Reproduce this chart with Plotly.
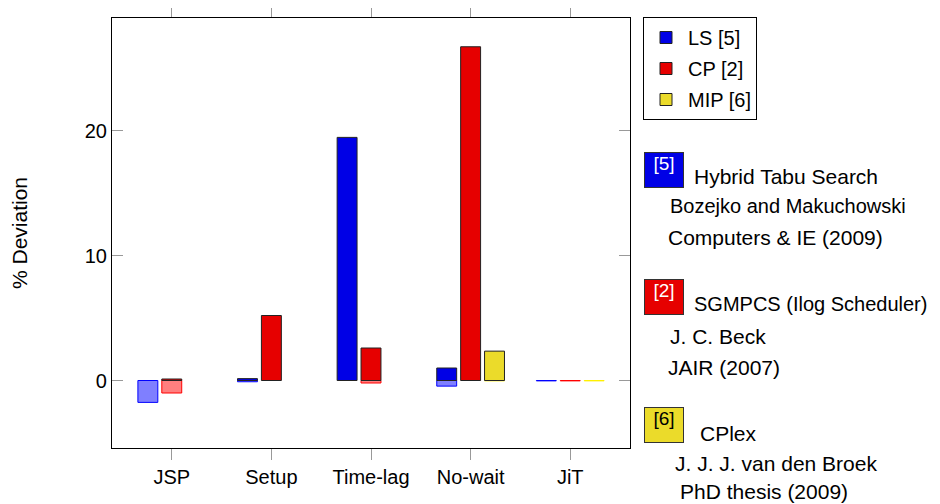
import plotly.graph_objects as go

categories = ["JSP", "Setup", "Time-lag", "No-wait", "JiT"]

# solid bars and the lighter (transparent) bars behind them, % deviation
ls_solid = [None, 0.15, 19.45, 1.0, None]
ls_light = [-1.75, -0.1, None, -0.45, -0.03]
cp_solid = [0.12, 5.2, 2.6, 26.7, None]
cp_light = [-1.0, None, -0.2, None, -0.03]
mip_solid = [None, None, None, 2.35, None]
mip_light = [None, None, None, -0.03, -0.03]

series = [
    ("LS [5]", ls_solid, ls_light, "#0000e6", "rgba(0,0,255,0.5)", "#0000ff", -0.34),
    ("CP [2]", cp_solid, cp_light, "#e60000", "rgba(255,0,0,0.5)", "#ff0000", -0.10),
    ("MIP [6]", mip_solid, mip_light, "#ebdb2a", "rgba(255,240,0,0.5)", "#fff000", 0.14),
]

FONT = "Liberation Sans"
# page body has an 8px margin, so the figure starts at (8, 8) in the window
OFF = 8
W, H = 940 - OFF, 504 - OFF
L, R, T, B = 112, 630, 18, 448   # plot area in window pixels


def px(x):
    return (x - L) / (R - L)


def py(y):
    return (B - y) / (B - T)


fig = go.Figure()
for name, solid, light, col, lcol, edge, off in series:
    fig.add_bar(x=categories, y=light, width=0.2, offset=off, marker_color=lcol,
                marker_line=dict(color=edge, width=1), showlegend=False, hoverinfo="skip")
for i, (name, solid, light, col, lcol, edge, off) in enumerate(series):
    fig.add_bar(x=categories, y=solid, width=0.2, offset=off, name=name, legendgroup=str(i),
                marker_color=col, marker_line=dict(color="#222", width=1))

fig.update_layout(
    barmode="overlay",
    width=W, height=H,
    margin=dict(l=L - OFF, r=W - (R - OFF), t=T - OFF, b=H - (B - OFF), autoexpand=False),
    plot_bgcolor="white", paper_bgcolor="white",
    font=dict(family=FONT, size=19, color="black"),
    legend=dict(x=px(643), y=py(17), xanchor="left", yanchor="top",
                bordercolor="black", borderwidth=1, font=dict(size=20),
                tracegroupgap=2, itemwidth=34),
)
fig.update_xaxes(range=[-0.6, 4.6], showline=True, linecolor="black", linewidth=1.2,
                 mirror="ticks", ticks="outside", ticklen=11, tickcolor="#999",
                 tickfont=dict(size=20), showgrid=False)
fig.update_yaxes(range=[-5.4, 29], tickvals=[0, 10, 20], showline=True, linecolor="black",
                 linewidth=1.2, mirror="ticks", ticks="inside", ticklen=11, tickcolor="#999",
                 tickfont=dict(size=20), showgrid=False, zeroline=False,
                 title=dict(text="% Deviation", font=dict(size=21), standoff=52))

refs = [
    ("[5]", "#0000e6", "white", 152, [("Hybrid Tabu Search", 692, 176),
                                       ("Bozejko and Makuchowski", 668, 206),
                                       ("Computers & IE (2009)", 666, 237)]),
    ("[2]", "#e60000", "white", 279, [("SGMPCS (Ilog Scheduler)", 692, 304),
                                       ("J. C. Beck", 668, 336),
                                       ("JAIR (2007)", 666, 367)]),
    ("[6]", "#ebdb2a", "black", 407, [("CPlex", 698, 433),
                                       ("J. J. J. van den Broek", 673, 463),
                                       ("PhD thesis (2009)", 678, 492)]),
]
for tag, bg, fc, top, lines in refs:
    fig.add_annotation(xref="paper", yref="paper", x=px(644), y=py(top), xanchor="left",
                       yanchor="top", text=tag, showarrow=False, bgcolor=bg,
                       bordercolor="#333", borderwidth=1, width=38, height=34, valign="top",
                       font=dict(size=19, color=fc), borderpad=0)
    for txt, x, y in lines:
        fig.add_annotation(xref="paper", yref="paper", x=px(x), y=py(y), xanchor="left",
                           yanchor="middle", text=txt, showarrow=False,
                           font=dict(size=20 if len(txt) > 22 else 21))

fig.write_html("out.html")
